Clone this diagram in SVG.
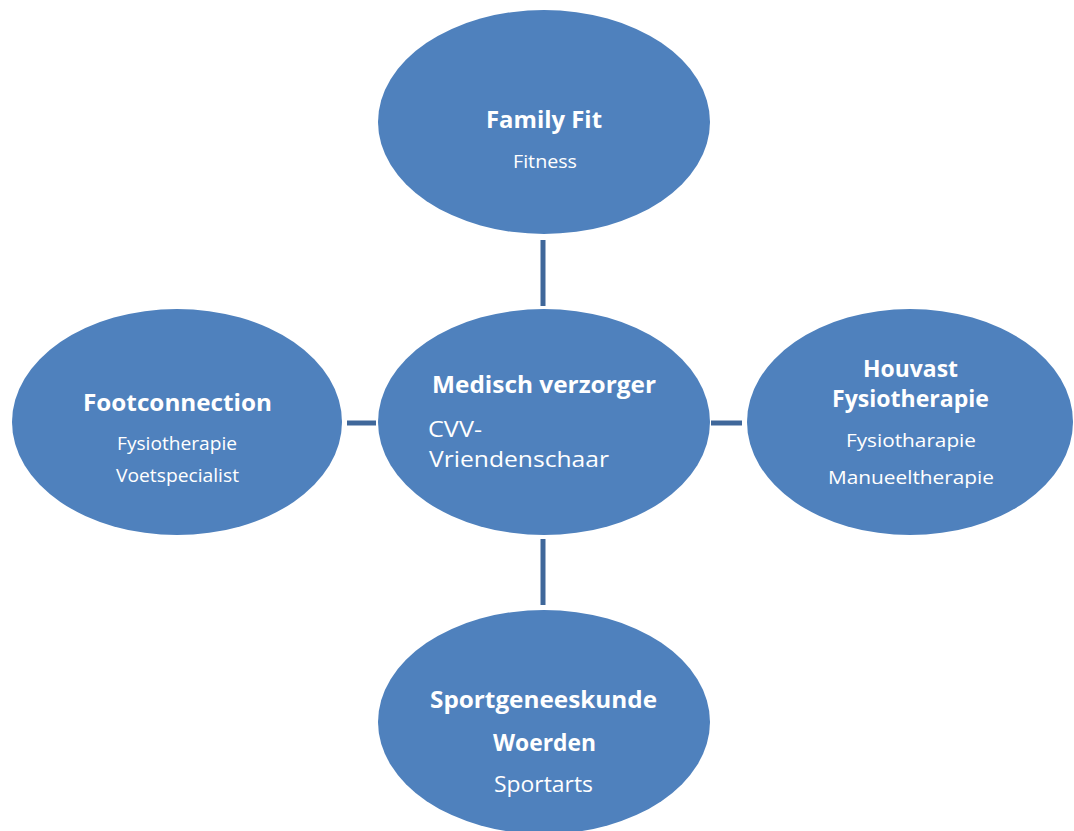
<svg xmlns="http://www.w3.org/2000/svg" width="1074" height="831" viewBox="0 0 1074 831">
<style>
.node{fill:#4F81BD;}
.conn{stroke:#3F679A;stroke-width:5;fill:none;}
text{font-family:"Open Sans","Liberation Sans",sans-serif;fill:#FFFFFF;}
.h{font-weight:bold;font-size:23px;}
.s{font-size:18px;}
.m{font-size:21px;}
</style>
<rect width="1074" height="831" fill="#FFFFFF"/>
<g id="connectors">
<line class="conn" x1="543" y1="240" x2="543" y2="306"/>
<line class="conn" x1="543" y1="539" x2="543" y2="605"/>
<line class="conn" x1="347" y1="423" x2="376" y2="423"/>
<line class="conn" x1="711" y1="423" x2="742" y2="423"/>
</g>
<g id="family-fit">
<ellipse class="node" cx="544" cy="122" rx="166" ry="112"/>
<text class="h" x="486" y="128" textLength="116" lengthAdjust="spacingAndGlyphs">Family Fit</text>
<text class="s" x="513" y="168" textLength="64" lengthAdjust="spacingAndGlyphs">Fitness</text>
</g>
<g id="medisch-verzorger">
<ellipse class="node" cx="544" cy="422" rx="166" ry="113"/>
<text class="h" x="432" y="393" textLength="224" lengthAdjust="spacingAndGlyphs">Medisch verzorger</text>
<text class="m" x="428" y="437" textLength="54" lengthAdjust="spacingAndGlyphs">CVV-</text>
<text class="m" x="429" y="467" textLength="180" lengthAdjust="spacingAndGlyphs">Vriendenschaar</text>
</g>
<g id="footconnection">
<ellipse class="node" cx="177" cy="422" rx="165" ry="113"/>
<text class="h" x="83" y="411" textLength="189" lengthAdjust="spacingAndGlyphs">Footconnection</text>
<text class="s" x="117" y="450" textLength="120" lengthAdjust="spacingAndGlyphs">Fysiotherapie</text>
<text class="s" x="116" y="482" textLength="123" lengthAdjust="spacingAndGlyphs">Voetspecialist</text>
</g>
<g id="houvast">
<ellipse class="node" cx="910" cy="422" rx="163" ry="113"/>
<text class="h" x="863" y="377" textLength="95" lengthAdjust="spacingAndGlyphs">Houvast</text>
<text class="h" x="832" y="407" textLength="157" lengthAdjust="spacingAndGlyphs">Fysiotherapie</text>
<text class="s" x="846" y="447" textLength="130" lengthAdjust="spacingAndGlyphs">Fysiotharapie</text>
<text class="s" x="828" y="484" textLength="166" lengthAdjust="spacingAndGlyphs">Manueeltherapie</text>
</g>
<g id="sportgeneeskunde">
<ellipse class="node" cx="544" cy="722" rx="166" ry="112"/>
<text class="h" x="430" y="708" textLength="227" lengthAdjust="spacingAndGlyphs">Sportgeneeskunde</text>
<text class="h" x="493" y="751" textLength="103" lengthAdjust="spacingAndGlyphs">Woerden</text>
<text class="m" x="494" y="792" textLength="99" lengthAdjust="spacingAndGlyphs">Sportarts</text>
</g>
</svg>
